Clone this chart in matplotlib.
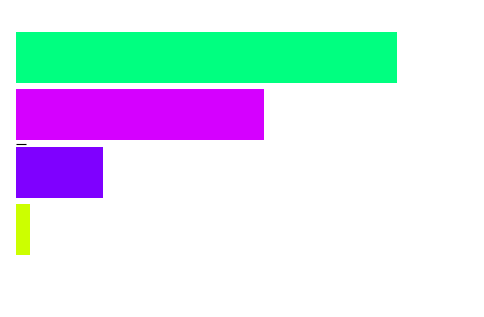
import matplotlib
matplotlib.use("Agg")
import matplotlib.pyplot as plt

# bar data
categories = ["A", "B", "C", "D"]
values = [84.0, 54.8, 19.2, 3.0]
colors = ["#00FF80", "#D500FF", "#7F00FF", "#CCFF00"]

W, H = 485, 317
fig = plt.figure(figsize=(W / 100, H / 100), dpi=100)
ax = fig.add_axes([16 / W, 0, 453 / W, 1])

pos = list(range(len(categories)))
ax.barh(pos, values, height=0.89, color=colors)

ax.set_xlim(0, 100)
ax.set_ylim(4.526, -1.003)
for s in ax.spines.values():
    s.set_visible(False)
ax.set_xticks([])
ax.set_yticks([1.5])
ax.set_yticklabels([])
ax.tick_params(axis="y", direction="in", length=7.2, width=0.8, color="black")

fig.savefig("out.png", dpi=100)
